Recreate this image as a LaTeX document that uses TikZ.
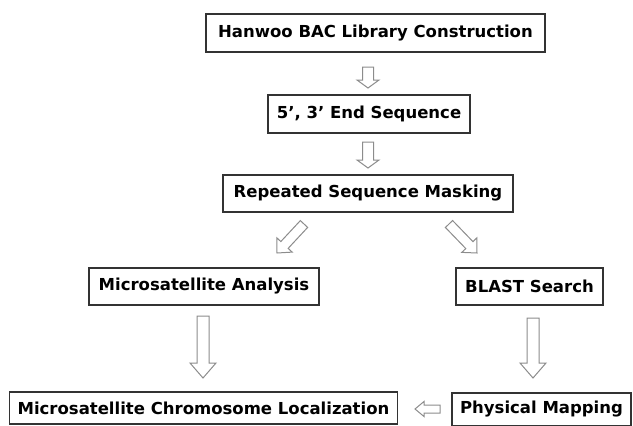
\documentclass[tikz,border=0pt]{standalone}
\usepackage{fontspec}
\setmainfont{DejaVu Sans}
\usetikzlibrary{calc}

\tikzset{
  stepbox/.style={draw=black!80, line width=1.2pt, fill=white, inner sep=0pt,
    font=\bfseries\fontsize{16.5}{19}\selectfont, text=black},
  hollow/.style={draw=black!45, line width=1pt, fill=white, line join=miter},
}

% hollow block arrow from #2 (tail) to #3 (tip);
% #1 = shaft half-width, #4 = head half-width, #5 = head length
\newcommand\blockarrow[5]{%
  \coordinate (hb) at ($(#3)!#5pt!(#2)$);
  \draw[hollow]
    ($(#2)!#1pt!90:(#3)$) -- ($(hb)!#1pt!-90:(#2)$) -- ($(hb)!#4pt!-90:(#2)$)
    -- (#3) -- ($(hb)!#4pt!90:(#2)$) -- ($(hb)!#1pt!90:(#2)$)
    -- ($(#2)!#1pt!-90:(#3)$) -- cycle;
}

\begin{document}
\begin{tikzpicture}[x=1pt, y=-1pt]
  \useasboundingbox (0,0) rectangle (633,426);

  % process boxes
  \node[stepbox, minimum width=339pt, minimum height=38pt] (lib)   at (375.5,33)  {Hanwoo BAC Library Construction};
  \node[stepbox, minimum width=202pt, minimum height=38pt] (ends)  at (369,114)   {5’, 3’ End Sequence};
  \node[stepbox, minimum width=290pt, minimum height=37pt] (mask)  at (368,193.5) {Repeated Sequence Masking};
  \node[stepbox, minimum width=230pt, minimum height=37pt] (micro) at (204,286.5) {Microsatellite Analysis};
  \node[stepbox, minimum width=147pt, minimum height=37pt] (blast) at (529.5,286.5) {BLAST Search};
  \node[stepbox, minimum width=388pt, minimum height=32pt] (local) at (203.5,408) {Microsatellite Chromosome Localization};
  \node[stepbox, minimum width=179pt, minimum height=33pt] (phys)  at (541.5,409.5) {Physical Mapping};

  % arrow end points
  \coordinate (t1) at (368,67);   \coordinate (h1) at (368,88);
  \coordinate (t2) at (368,142);  \coordinate (h2) at (368,168);
  \coordinate (t3) at (304,224);  \coordinate (h3) at (277,253);
  \coordinate (t4) at (449,224);  \coordinate (h4) at (477,253);
  \coordinate (t5) at (203,316);  \coordinate (h5) at (203,378);
  \coordinate (t6) at (533,318);  \coordinate (h6) at (533,378);
  \coordinate (t7) at (440,409);  \coordinate (h7) at (415,409);

  % connectors
  \blockarrow{5.5}{t1}{h1}{11}{8}
  \blockarrow{5.5}{t2}{h2}{11}{8}
  \blockarrow{5}{t3}{h3}{10.5}{11}
  \blockarrow{5}{t4}{h4}{10.5}{11}
  \blockarrow{6}{t5}{h5}{13}{15}
  \blockarrow{6}{t6}{h6}{13}{15}
  \blockarrow{4}{t7}{h7}{7.5}{9}
\end{tikzpicture}
\end{document}
